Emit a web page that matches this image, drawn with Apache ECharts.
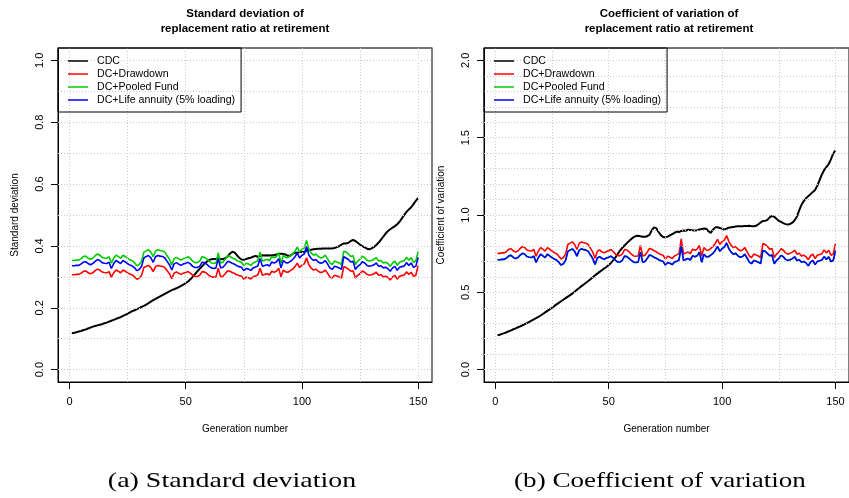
<!DOCTYPE html>
<html>
<head>
<meta charset="utf-8">
<script src="https://cdn.jsdelivr.net/npm/echarts@6/dist/echarts.min.js"></script>
<style>
  html, body { margin: 0; padding: 0; background: #fff; }
  #chart { width: 849px; height: 498px; }
</style>
</head>
<body>
<div id="chart"></div>
<script>
// Generation index 1..150
const generations = Array.from({ length: 150 }, (_, i) => i + 1);

// Standard deviation of replacement ratio at retirement
const sdCDC = [
  0.118, 0.119, 0.121, 0.123, 0.125, 0.128, 0.130, 0.133, 0.136, 0.139,
  0.141, 0.143, 0.145, 0.147, 0.150, 0.152, 0.155, 0.158, 0.161, 0.164,
  0.167, 0.170, 0.174, 0.177, 0.181, 0.185, 0.189, 0.192, 0.196, 0.199,
  0.203, 0.206, 0.210, 0.215, 0.220, 0.225, 0.229, 0.233, 0.237, 0.241,
  0.245, 0.249, 0.253, 0.257, 0.260, 0.263, 0.267, 0.271, 0.275, 0.280,
  0.285, 0.292, 0.300, 0.309, 0.318, 0.326, 0.334, 0.342, 0.349, 0.354,
  0.357, 0.358, 0.358, 0.359, 0.358, 0.357, 0.360, 0.366, 0.375, 0.381,
  0.379, 0.370, 0.362, 0.356, 0.355, 0.358, 0.360, 0.362, 0.365, 0.368,
  0.365, 0.367, 0.370, 0.369, 0.370, 0.369, 0.370, 0.370, 0.372, 0.375,
  0.375, 0.374, 0.372, 0.368, 0.368, 0.374, 0.378, 0.378, 0.380, 0.381,
  0.380, 0.385, 0.387, 0.388, 0.389, 0.390, 0.391, 0.391, 0.392, 0.392,
  0.392, 0.392, 0.392, 0.393, 0.396, 0.399, 0.404, 0.408, 0.408, 0.410,
  0.416, 0.419, 0.416, 0.410, 0.404, 0.399, 0.395, 0.391, 0.389, 0.392,
  0.397, 0.403, 0.411, 0.420, 0.430, 0.440, 0.448, 0.454, 0.459, 0.464,
  0.470, 0.478, 0.489, 0.500, 0.510, 0.518, 0.525, 0.535, 0.546, 0.555
];
const sdDrawdown = [
  0.307, 0.307, 0.308, 0.308, 0.312, 0.318, 0.319, 0.313, 0.310, 0.313,
  0.320, 0.325, 0.322, 0.316, 0.314, 0.313, 0.317, 0.299, 0.313, 0.322,
  0.318, 0.313, 0.322, 0.318, 0.313, 0.309, 0.306, 0.300, 0.292, 0.296,
  0.305, 0.330, 0.334, 0.337, 0.330, 0.317, 0.333, 0.337, 0.335, 0.334,
  0.330, 0.320, 0.310, 0.294, 0.312, 0.316, 0.311, 0.308, 0.312, 0.314,
  0.317, 0.312, 0.305, 0.301, 0.301, 0.305, 0.317, 0.316, 0.311, 0.305,
  0.300, 0.299, 0.300, 0.328, 0.300, 0.302, 0.310, 0.320, 0.318, 0.314,
  0.311, 0.307, 0.304, 0.302, 0.292, 0.299, 0.297, 0.293, 0.300, 0.303,
  0.306, 0.328, 0.305, 0.308, 0.310, 0.306, 0.318, 0.315, 0.318, 0.328,
  0.300, 0.322, 0.316, 0.315, 0.320, 0.325, 0.333, 0.344, 0.330, 0.338,
  0.342, 0.362, 0.338, 0.328, 0.322, 0.325, 0.318, 0.314, 0.316, 0.322,
  0.312, 0.300, 0.296, 0.305, 0.303, 0.300, 0.296, 0.333, 0.330, 0.325,
  0.318, 0.320, 0.296, 0.305, 0.310, 0.319, 0.315, 0.308, 0.305, 0.307,
  0.310, 0.315, 0.305, 0.307, 0.300, 0.302, 0.298, 0.290, 0.300, 0.305,
  0.293, 0.302, 0.304, 0.306, 0.316, 0.308, 0.315, 0.302, 0.305, 0.336
];
const sdPooled = [
  0.353, 0.353, 0.354, 0.354, 0.359, 0.366, 0.367, 0.360, 0.357, 0.360,
  0.368, 0.374, 0.370, 0.363, 0.361, 0.360, 0.365, 0.344, 0.360, 0.370,
  0.366, 0.360, 0.370, 0.366, 0.360, 0.355, 0.352, 0.345, 0.336, 0.340,
  0.351, 0.380, 0.384, 0.388, 0.380, 0.365, 0.383, 0.388, 0.385, 0.384,
  0.380, 0.368, 0.357, 0.338, 0.359, 0.363, 0.358, 0.354, 0.359, 0.361,
  0.365, 0.359, 0.351, 0.346, 0.346, 0.351, 0.365, 0.363, 0.358, 0.351,
  0.345, 0.344, 0.345, 0.377, 0.345, 0.347, 0.357, 0.368, 0.366, 0.361,
  0.358, 0.353, 0.350, 0.347, 0.336, 0.344, 0.342, 0.337, 0.345, 0.348,
  0.352, 0.380, 0.351, 0.354, 0.357, 0.352, 0.366, 0.362, 0.366, 0.377,
  0.345, 0.370, 0.363, 0.362, 0.368, 0.374, 0.383, 0.396, 0.380, 0.389,
  0.393, 0.418, 0.389, 0.377, 0.370, 0.374, 0.366, 0.361, 0.363, 0.370,
  0.359, 0.345, 0.340, 0.351, 0.348, 0.345, 0.340, 0.383, 0.380, 0.374,
  0.366, 0.368, 0.340, 0.351, 0.357, 0.367, 0.362, 0.354, 0.351, 0.353,
  0.357, 0.362, 0.351, 0.353, 0.345, 0.347, 0.343, 0.334, 0.345, 0.351,
  0.337, 0.347, 0.350, 0.352, 0.363, 0.354, 0.362, 0.347, 0.351, 0.382
];
const sdAnnuity = [
  0.336, 0.336, 0.337, 0.337, 0.342, 0.348, 0.349, 0.343, 0.339, 0.343,
  0.350, 0.356, 0.353, 0.346, 0.344, 0.343, 0.347, 0.327, 0.343, 0.353,
  0.348, 0.343, 0.353, 0.348, 0.343, 0.338, 0.335, 0.329, 0.320, 0.324,
  0.334, 0.361, 0.366, 0.369, 0.361, 0.347, 0.365, 0.369, 0.367, 0.366,
  0.361, 0.350, 0.339, 0.322, 0.342, 0.346, 0.341, 0.337, 0.342, 0.344,
  0.347, 0.342, 0.334, 0.330, 0.330, 0.334, 0.347, 0.346, 0.341, 0.334,
  0.329, 0.327, 0.329, 0.359, 0.329, 0.331, 0.339, 0.350, 0.348, 0.344,
  0.341, 0.336, 0.333, 0.331, 0.320, 0.327, 0.325, 0.321, 0.329, 0.332,
  0.335, 0.359, 0.334, 0.337, 0.339, 0.335, 0.348, 0.345, 0.348, 0.359,
  0.329, 0.353, 0.346, 0.345, 0.350, 0.356, 0.365, 0.377, 0.361, 0.370,
  0.374, 0.398, 0.370, 0.359, 0.353, 0.356, 0.348, 0.344, 0.346, 0.353,
  0.342, 0.329, 0.324, 0.334, 0.332, 0.329, 0.324, 0.365, 0.361, 0.356,
  0.348, 0.350, 0.324, 0.334, 0.339, 0.349, 0.345, 0.337, 0.334, 0.336,
  0.339, 0.345, 0.334, 0.336, 0.329, 0.331, 0.326, 0.318, 0.329, 0.334,
  0.321, 0.331, 0.333, 0.335, 0.346, 0.337, 0.345, 0.331, 0.334, 0.363
];

// Coefficient of variation of replacement ratio at retirement
const cvCDC = [
  0.222, 0.226, 0.231, 0.236, 0.242, 0.248, 0.254, 0.261, 0.267, 0.274,
  0.280, 0.287, 0.294, 0.301, 0.309, 0.317, 0.325, 0.333, 0.341, 0.350,
  0.360, 0.370, 0.380, 0.390, 0.400, 0.411, 0.422, 0.432, 0.442, 0.452,
  0.462, 0.472, 0.482, 0.492, 0.504, 0.516, 0.528, 0.540, 0.551, 0.562,
  0.573, 0.585, 0.597, 0.610, 0.621, 0.632, 0.643, 0.654, 0.664, 0.676,
  0.690, 0.706, 0.726, 0.748, 0.770, 0.788, 0.803, 0.818, 0.832, 0.845,
  0.857, 0.864, 0.866, 0.862, 0.859, 0.860, 0.863, 0.872, 0.900, 0.920,
  0.915, 0.890, 0.870, 0.858, 0.855, 0.860, 0.868, 0.876, 0.884, 0.893,
  0.890, 0.897, 0.900, 0.898, 0.905, 0.903, 0.901, 0.900, 0.902, 0.906,
  0.910, 0.912, 0.911, 0.895, 0.884, 0.905, 0.920, 0.921, 0.916, 0.912,
  0.905, 0.912, 0.918, 0.921, 0.923, 0.925, 0.927, 0.928, 0.928, 0.929,
  0.929, 0.930, 0.928, 0.927, 0.930, 0.940, 0.952, 0.961, 0.962, 0.968,
  0.985, 0.994, 0.988, 0.975, 0.962, 0.955, 0.947, 0.941, 0.938, 0.942,
  0.950, 0.966, 0.990, 1.030, 1.065, 1.090, 1.108, 1.122, 1.135, 1.148,
  1.162, 1.190, 1.226, 1.262, 1.290, 1.310, 1.330, 1.360, 1.398, 1.419
];
const cvDrawdown = [
  0.752, 0.752, 0.755, 0.755, 0.764, 0.779, 0.782, 0.767, 0.760, 0.767,
  0.784, 0.796, 0.789, 0.774, 0.769, 0.767, 0.777, 0.733, 0.767, 0.789,
  0.779, 0.767, 0.789, 0.779, 0.767, 0.757, 0.750, 0.735, 0.715, 0.725,
  0.747, 0.809, 0.818, 0.826, 0.809, 0.777, 0.816, 0.826, 0.821, 0.818,
  0.809, 0.784, 0.760, 0.720, 0.764, 0.774, 0.762, 0.755, 0.764, 0.769,
  0.777, 0.764, 0.747, 0.737, 0.737, 0.747, 0.777, 0.774, 0.762, 0.747,
  0.735, 0.733, 0.735, 0.804, 0.735, 0.740, 0.760, 0.784, 0.779, 0.769,
  0.762, 0.752, 0.745, 0.740, 0.715, 0.733, 0.728, 0.718, 0.735, 0.742,
  0.750, 0.845, 0.747, 0.755, 0.760, 0.750, 0.779, 0.772, 0.779, 0.804,
  0.735, 0.789, 0.774, 0.772, 0.784, 0.796, 0.816, 0.843, 0.809, 0.828,
  0.838, 0.867, 0.828, 0.804, 0.789, 0.796, 0.779, 0.769, 0.774, 0.789,
  0.764, 0.735, 0.725, 0.747, 0.742, 0.735, 0.725, 0.816, 0.809, 0.796,
  0.779, 0.784, 0.725, 0.747, 0.760, 0.782, 0.772, 0.755, 0.747, 0.752,
  0.760, 0.772, 0.747, 0.752, 0.735, 0.740, 0.730, 0.711, 0.735, 0.747,
  0.718, 0.740, 0.745, 0.750, 0.774, 0.755, 0.772, 0.740, 0.747, 0.815
];
const cvPooled = [
  0.711, 0.711, 0.713, 0.713, 0.722, 0.736, 0.739, 0.725, 0.718, 0.725,
  0.741, 0.752, 0.746, 0.731, 0.727, 0.725, 0.734, 0.693, 0.725, 0.746,
  0.736, 0.725, 0.746, 0.736, 0.725, 0.715, 0.709, 0.695, 0.676, 0.685,
  0.706, 0.765, 0.773, 0.781, 0.765, 0.734, 0.771, 0.781, 0.776, 0.773,
  0.765, 0.741, 0.718, 0.680, 0.722, 0.731, 0.720, 0.713, 0.722, 0.727,
  0.734, 0.722, 0.706, 0.696, 0.696, 0.706, 0.734, 0.731, 0.720, 0.706,
  0.695, 0.693, 0.695, 0.760, 0.695, 0.699, 0.718, 0.741, 0.736, 0.727,
  0.720, 0.711, 0.704, 0.699, 0.676, 0.693, 0.688, 0.679, 0.695, 0.701,
  0.709, 0.799, 0.706, 0.713, 0.718, 0.709, 0.736, 0.730, 0.736, 0.760,
  0.695, 0.746, 0.731, 0.730, 0.741, 0.752, 0.771, 0.797, 0.765, 0.782,
  0.792, 0.819, 0.782, 0.760, 0.746, 0.752, 0.736, 0.727, 0.731, 0.746,
  0.722, 0.695, 0.685, 0.706, 0.701, 0.695, 0.685, 0.771, 0.765, 0.752,
  0.736, 0.741, 0.685, 0.706, 0.718, 0.739, 0.730, 0.713, 0.706, 0.711,
  0.718, 0.730, 0.706, 0.711, 0.695, 0.699, 0.690, 0.672, 0.695, 0.706,
  0.679, 0.699, 0.704, 0.709, 0.731, 0.713, 0.730, 0.699, 0.706, 0.770
];
const cvAnnuity = [
  0.711, 0.711, 0.713, 0.713, 0.722, 0.736, 0.739, 0.725, 0.718, 0.725,
  0.741, 0.752, 0.746, 0.731, 0.727, 0.725, 0.734, 0.693, 0.725, 0.746,
  0.736, 0.725, 0.746, 0.736, 0.725, 0.715, 0.709, 0.695, 0.676, 0.685,
  0.706, 0.765, 0.773, 0.781, 0.765, 0.734, 0.771, 0.781, 0.776, 0.773,
  0.765, 0.741, 0.718, 0.680, 0.722, 0.731, 0.720, 0.713, 0.722, 0.727,
  0.734, 0.722, 0.706, 0.696, 0.696, 0.706, 0.734, 0.731, 0.720, 0.706,
  0.695, 0.693, 0.695, 0.760, 0.695, 0.699, 0.718, 0.741, 0.736, 0.727,
  0.720, 0.711, 0.704, 0.699, 0.676, 0.693, 0.688, 0.679, 0.695, 0.701,
  0.709, 0.799, 0.706, 0.713, 0.718, 0.709, 0.736, 0.730, 0.736, 0.760,
  0.695, 0.746, 0.731, 0.730, 0.741, 0.752, 0.771, 0.797, 0.765, 0.782,
  0.792, 0.819, 0.782, 0.760, 0.746, 0.752, 0.736, 0.727, 0.731, 0.746,
  0.722, 0.695, 0.685, 0.706, 0.701, 0.695, 0.685, 0.771, 0.765, 0.752,
  0.736, 0.741, 0.685, 0.706, 0.718, 0.739, 0.730, 0.713, 0.706, 0.711,
  0.718, 0.730, 0.706, 0.711, 0.695, 0.699, 0.690, 0.672, 0.695, 0.706,
  0.679, 0.699, 0.704, 0.709, 0.731, 0.713, 0.730, 0.699, 0.706, 0.770
];

const seriesNames = ['CDC', 'DC+Drawdown', 'DC+Pooled Fund', 'DC+Life annuity (5% loading)'];
const seriesColors = ['#000000', '#FF0000', '#00CD00', '#0000FF'];

const xTicks = [0, 50, 100, 150];
const xGridLines = [0, 25, 50, 75, 100, 125, 150];
const sdTicks = [0, 0.2, 0.4, 0.6, 0.8, 1.0];
const sdGridLines = [0, 0.1, 0.2, 0.3, 0.4, 0.5, 0.6, 0.7, 0.8, 0.9, 1.0];
const cvTicks = [0, 0.5, 1.0, 1.5, 2.0];
const cvGridLines = [0, 0.1, 0.2, 0.3, 0.4, 0.5, 0.6, 0.7, 0.8, 0.9, 1.0,
  1.1, 1.2, 1.3, 1.4, 1.5, 1.6, 1.7, 1.8, 1.9, 2.0];

const FONT = 'Liberation Sans, Arial, sans-serif';

function pairs(values) {
  return values.map((v, i) => [generations[i], v]);
}

function xAxisFor(gridIndex) {
  return {
    type: 'value', gridIndex, min: -4.96, max: 155.96,
    name: 'Generation number', nameLocation: 'middle', nameGap: 42,
    nameTextStyle: { fontFamily: FONT, fontSize: 10, color: '#000' },
    axisLine: { show: true, onZero: false, lineStyle: { color: '#000', width: 1 } },
    axisTick: { show: true, length: 7, inside: false, customValues: xTicks,
      lineStyle: { color: '#000', width: 1, type: 'solid' } },
    axisLabel: { customValues: xTicks, margin: 14, fontFamily: FONT, fontSize: 11, color: '#000' },
    splitLine: { show: false }
  };
}

// Frame edge along the top of each panel
function topEdgeFor(gridIndex) {
  return {
    type: 'value', gridIndex, position: 'top', min: -4.96, max: 155.96,
    axisLine: { show: true, onZero: false, lineStyle: { color: '#707070', width: 1.6 } },
    axisTick: { show: false }, axisLabel: { show: false }, splitLine: { show: false }
  };
}

function yAxisFor(gridIndex, min, max, ticks, name) {
  return {
    type: 'value', gridIndex, min, max,
    name, nameLocation: 'middle', nameGap: 38, nameRotate: 90,
    nameTextStyle: { fontFamily: FONT, fontSize: 10, color: '#000' },
    axisLine: { show: true, onZero: false, lineStyle: { color: '#000', width: 1 } },
    axisTick: { show: true, length: 7, inside: false, customValues: ticks,
      lineStyle: { color: '#000', width: 1, type: 'solid' } },
    axisLabel: { customValues: ticks, rotate: 90, margin: 13, fontFamily: FONT, fontSize: 11,
      color: '#000', formatter: v => Number(v).toFixed(1) },
    splitLine: { show: false }
  };
}

function gridLinesSeries(idx, yLines) {
  const data = xGridLines.map(x => ({ xAxis: x }))
    .concat(yLines.map(y => ({ yAxis: y })));
  return {
    type: 'line', xAxisIndex: idx, yAxisIndex: idx, data: [], silent: true, z: 1,
    markLine: {
      silent: true, symbol: ['none', 'none'], animation: false,
      label: { show: false },
      lineStyle: { color: '#c8c8c8', width: 1, type: [1, 2] },
      emphasis: { disabled: true },
      data
    }
  };
}

function dataSeries(idx, lists) {
  return lists.map((vals, k) => ({
    name: seriesNames[k], type: 'line', xAxisIndex: idx, yAxisIndex: idx,
    data: pairs(vals), showSymbol: false, symbol: 'none', z: 2 + k,
    lineStyle: { color: seriesColors[k], width: k === 0 ? 2 : 1.6 },
    itemStyle: { color: seriesColors[k] },
    emphasis: { disabled: true }
  }));
}

function legendFor(left) {
  return {
    left, top: 48, orient: 'vertical', data: seriesNames, z: 20,
    backgroundColor: 'transparent', borderColor: '#000', borderWidth: 1, borderRadius: 0,
    padding: [6.5, 6, 5.5, 10], itemWidth: 20, itemHeight: 1.5, itemGap: 0,
    icon: 'rect', selectedMode: false,
    itemStyle: { borderWidth: 0 },
    textStyle: { fontFamily: FONT, fontSize: 10.6, lineHeight: 13, color: '#000', padding: [0, 0, 0, 4] }
  };
}

function label(x, y, text, font, scaleX) {
  return { type: 'text', x, y, scaleX: scaleX || 1, style: { text, font, fill: '#000',
    align: 'center', verticalAlign: 'middle', textAlign: 'center', textVerticalAlign: 'middle' } };
}

const chart = echarts.init(document.getElementById('chart'), null, { renderer: 'canvas' });
chart.setOption({
  animation: false,
  backgroundColor: '#fff',
  grid: [
    { left: 58, top: 48, width: 374, height: 334, show: true, borderColor: '#000', borderWidth: 1,
      backgroundColor: 'transparent' },
    { left: 484, top: 48, width: 373, height: 334, show: true, borderColor: '#000', borderWidth: 1,
      backgroundColor: 'transparent' }
  ],
  xAxis: [xAxisFor(0), xAxisFor(1), topEdgeFor(0), topEdgeFor(1)],
  yAxis: [
    yAxisFor(0, -0.04, 1.04, sdTicks, 'Standard deviation'),
    yAxisFor(1, -0.08, 2.08, cvTicks, 'Coefficient of variation')
  ],
  legend: [legendFor(58), legendFor(484)],
  series: [
    gridLinesSeries(0, sdGridLines),
    gridLinesSeries(1, cvGridLines),
    ...dataSeries(0, [sdCDC, sdDrawdown, sdPooled, sdAnnuity]),
    ...dataSeries(1, [cvCDC, cvDrawdown, cvPooled, cvAnnuity])
  ],
  graphic: [
    label(245, 14, 'Standard deviation of', 'bold 11.5px ' + FONT),
    label(245, 29, 'replacement ratio at retirement', 'bold 11.5px ' + FONT),
    label(669, 14, 'Coefficient of variation of', 'bold 11.5px ' + FONT),
    label(669, 29, 'replacement ratio at retirement', 'bold 11.5px ' + FONT),
    label(232, 481, '(a) Standard deviation', '22px "Liberation Serif", serif', 1.27),
    label(660, 481, '(b) Coefficient of variation', '22px "Liberation Serif", serif', 1.23)
  ]
});
</script>
</body>
</html>
